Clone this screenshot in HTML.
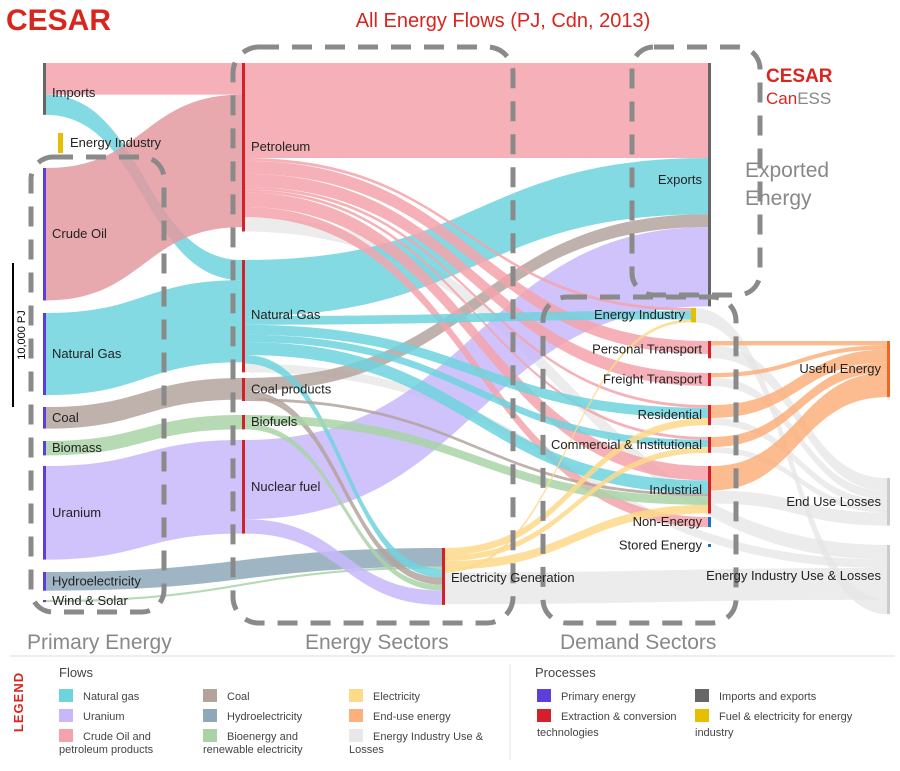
<!DOCTYPE html>
<html><head><meta charset="utf-8">
<style>
body{margin:0;background:#fff;width:900px;height:766px;overflow:hidden;font-family:"Liberation Sans",sans-serif}
svg text{font-family:"Liberation Sans",sans-serif}
</style></head>
<body>
<svg id="chart" width="900" height="766" viewBox="0 0 900 766" xmlns="http://www.w3.org/2000/svg">
<g id="links"></g>
<g id="nodes"></g>
<g id="dash" fill="none" stroke="#8a8a8a" stroke-width="5" stroke-dasharray="20 13">
<rect x="31" y="157" width="133" height="455" rx="22"/>
<rect x="233" y="47" width="280" height="576" rx="26"/>
<rect x="632" y="47" width="128" height="248" rx="22"/>
<rect x="543" y="297" width="193" height="326" rx="24"/>
</g>
<g id="labels" font-size="13" fill="#222"></g>
<text x="6" y="30" font-size="30" font-weight="bold" fill="#d9251d">CESAR</text>
<text x="503" y="27" font-size="20" fill="#d9251d" text-anchor="middle">All Energy Flows (PJ, Cdn, 2013)</text>
<text x="766" y="82" font-size="19" font-weight="bold" fill="#d9251d">CESAR</text>
<text x="766" y="104" font-size="17" fill="#d9251d">Can<tspan fill="#888">ESS</tspan></text>
<text x="745" y="177" font-size="21" fill="#888">Exported</text>
<text x="745" y="205" font-size="21" fill="#888">Energy</text>
<text x="27" y="649" font-size="21" fill="#888">Primary Energy</text>
<text x="305" y="649" font-size="21" fill="#888">Energy Sectors</text>
<text x="560" y="649" font-size="21" fill="#888">Demand Sectors</text>
<line x1="13" y1="263" x2="13" y2="407" stroke="#000" stroke-width="2"/>
<text transform="translate(25,335) rotate(-90)" font-size="11" text-anchor="middle">10,000 PJ</text>
<line x1="10" y1="656" x2="895" y2="656" stroke="#eee" stroke-width="2"/>
<line x1="510" y1="664" x2="510" y2="760" stroke="#e4e4e4"/>
<text transform="translate(23,702) rotate(-90)" font-size="13" font-weight="bold" fill="#d9251d" text-anchor="middle" letter-spacing="1">LEGEND</text>
<g id="legend" font-size="11" fill="#444">
<text x="59" y="677" font-size="13">Flows</text>
<text x="535" y="677" font-size="13">Processes</text>
</g>
</svg>
<script>
const nodeIds=['imports','eiP','crude','ngP','coal','biomass','uranium','hydro','wind','petroleum','ng','coalprod','biofuels','nuclear','elec','exports','ei','pers','freight','res','comm','ind','nonen','stored','useful','endloss','eiloss'];
const nodeLabels=['Imports','Energy Industry','Crude Oil','Natural Gas','Coal','Biomass','Uranium','Hydroelectricity','Wind & Solar','Petroleum','Natural Gas','Coal products','Biofuels','Nuclear fuel','Electricity Generation','Exports','Energy Industry','Personal Transport','Freight Transport','Residential','Commercial & Institutional','Industrial','Non-Energy','Stored Energy','Useful Energy','End Use Losses','Energy Industry Use & Losses'];
const linkSources=['imports','imports','crude','ngP','coal','biomass','uranium','hydro','wind','petroleum','ng','coalprod','nuclear','petroleum','petroleum','petroleum','petroleum','petroleum','petroleum','petroleum','petroleum','ng','ng','ng','ng','ng','ng','coalprod','coalprod','biofuels','biofuels','nuclear','elec','elec','elec','elec','elec','pers','pers','freight','freight','res','res','comm','comm','ind','ind','ei'];
const linkTargets=['petroleum','ng','petroleum','ng','coalprod','biofuels','nuclear','elec','elec','exports','exports','exports','exports','ei','pers','freight','res','comm','ind','nonen','eiloss','ei','res','comm','ind','elec','eiloss','elec','ind','ind','elec','elec','res','comm','ind','ei','eiloss','useful','endloss','useful','endloss','useful','endloss','useful','endloss','useful','endloss','eiloss'];
const linkValues=[2200,1400,9200,5700,1500,1000,6500,1300,150,6600,3900,900,5500,200,900,900,200,200,1000,700,1000,600,700,500,900,600,600,500,200,600,400,1000,500,400,600,200,2200,300,900,300,600,900,500,700,400,1700,900,1000];
const linkTypes=['oil','gas','crude','gas','coal','bio','ur','hydro','bio','oil','gas','coal','ur','oil','oil','oil','oil','oil','oil','oil','grey','gas','gas','gas','gas','gas','grey','coal','coal','bio','bio','ur','elec','elec','elec','elec','grey','end','grey','end','grey','end','grey','end','grey','end','grey','grey'];
const colors={oil:'#f5a3ab',crude:'#e39aa0',gas:'#6fd3de',coal:'#b4a39c',bio:'#a9d3a6',ur:'#c8b8fb',hydro:'#8ea8ba',elec:'#fdd98a',end:'#fcb07c',grey:'#e6e6e6'};
const nodeX={imports:43,eiP:58,crude:43,ngP:43,coal:43,biomass:43,uranium:43,hydro:43,wind:43,petroleum:242,ng:242,coalprod:242,biofuels:242,nuclear:242,elec:442,exports:708,ei:691,pers:708,freight:708,res:708,comm:708,ind:708,nonen:708,stored:708,useful:887,endloss:887,eiloss:887};
const nodeY={imports:63,eiP:133,crude:168,ngP:313,coal:407,biomass:441,uranium:466,hydro:572,wind:600,petroleum:63,ng:260,coalprod:378,biofuels:415,nuclear:440,elec:548,exports:63,ei:308,pers:341,freight:373,res:405,comm:437,ind:466,nonen:517,stored:544,useful:341,endloss:478,eiloss:545};
const barColor={imports:'#666',eiP:'#e6c000',ei:'#e6c000',exports:'#666',nonen:'#1f6fbf',stored:'#1f6fbf',useful:'#f26522',endloss:'#ccc',eiloss:'#ccc'};
const primary=['crude','ngP','coal','biomass','uranium','hydro','wind'];
const scale=0.0144;
const NS='http://www.w3.org/2000/svg';
const inSum={},outSum={};
nodeIds.forEach(n=>{inSum[n]=0;outSum[n]=0;});
linkValues.forEach((v,i)=>{outSum[linkSources[i]]+=v;inSum[linkTargets[i]]+=v;});
const outOff={},inOff={};
nodeIds.forEach(n=>{outOff[n]=0;inOff[n]=0;});
const gL=document.getElementById('links');
const paths=[];
linkValues.forEach((v,i)=>{
 const s=linkSources[i],t=linkTargets[i],h=v*scale;
 const x0=nodeX[s]+3,x1=nodeX[t];
 const y0=nodeY[s]+outOff[s],y1=nodeY[t]+inOff[t];
 outOff[s]+=h;inOff[t]+=h;
 const xm=(x0+x1)/2;
 const p=document.createElementNS(NS,'path');
 p.setAttribute('d',`M${x0},${y0}C${xm},${y0} ${xm},${y1} ${x1},${y1}L${x1},${y1+h}C${xm},${y1+h} ${xm},${y0+h} ${x0},${y0+h}Z`);
 p.setAttribute('fill',colors[linkTypes[i]]);
 p.setAttribute('fill-opacity',linkTypes[i]==='grey'?'0.75':'0.85');
 
 
 paths.push([linkTypes[i]==='grey'?0:1,p]);
});
paths.filter(q=>q[0]===0).forEach(q=>gL.appendChild(q[1]));
paths.filter(q=>q[0]===1).forEach(q=>gL.appendChild(q[1]));
const gN=document.getElementById('nodes'),gT=document.getElementById('labels');
nodeIds.forEach((n,i)=>{
 const h=Math.max(inSum[n],outSum[n])*scale||(n==='eiP'?20:3);
 const r=document.createElementNS(NS,'rect');
 r.setAttribute('x',nodeX[n]);r.setAttribute('y',nodeY[n]);
 r.setAttribute('width',n==='eiP'||n==='ei'?5:3);r.setAttribute('height',Math.max(h,2));
 r.setAttribute('fill',barColor[n]||(primary.includes(n)?'#5b3fd8':'#d4202a'));
 
 
 gN.appendChild(r);
 const t=document.createElementNS(NS,'text');
 const right=nodeX[n]>600;
 t.setAttribute('x',right?nodeX[n]-6:nodeX[n]+(n==='eiP'?12:9));
 if(n==='useful'||n==='endloss'||n==='eiloss')t.setAttribute('x',881);
 t.setAttribute('y',nodeY[n]+Math.min(h/2,n==='petroleum'?95:n==='ng'?55:h/2)+4);
 if(n==='imports')t.setAttribute('y',97);
 if(n==='elec')t.setAttribute('y',582);
 if(n==='eiloss')t.setAttribute('y',580);
 if(n==='exports')t.setAttribute('y',184);
 if(right)t.setAttribute('text-anchor','end');
 t.textContent=nodeLabels[i];
 
 
 gT.appendChild(t);
});
const legendNames=['Natural gas','Uranium','Crude Oil and','Coal','Hydroelectricity','Bioenergy and','Electricity','End-use energy','Energy Industry Use &','Primary energy','Extraction & conversion','Imports and exports','Fuel & electricity for energy'];
const legendColors=['#6fd3de','#c8b8fb','#f5a3ab','#b4a39c','#8ea8ba','#a9d3a6','#fdd98a','#fcb07c','#e8e8e8','#5b3fd8','#d4202a','#666','#e6c000'];
const legendX=[59,59,59,203,203,203,349,349,349,537,537,695,695];
const legendY=[689,709,729,689,709,729,689,709,729,689,709,689,709];
const lg=document.getElementById('legend');
legendNames.forEach((nm,i)=>{
 const r=document.createElementNS(NS,'rect');
 r.setAttribute('x',legendX[i]);r.setAttribute('y',legendY[i]);r.setAttribute('width',14);r.setAttribute('height',13);r.setAttribute('fill',legendColors[i]);
 
 
 lg.appendChild(r);
 const t=document.createElementNS(NS,'text');
 t.setAttribute('x',legendX[i]+24);t.setAttribute('y',legendY[i]+11);t.textContent=nm;
 
 
 lg.appendChild(t);
});
const extra=[['petroleum products',59,753],['renewable electricity',203,753],['Losses',349,753],['technologies',537,736],['industry',695,736]];
extra.forEach((e,i)=>{const t=document.createElementNS(NS,'text');t.setAttribute('x',e[1]);t.setAttribute('y',e[2]);t.textContent=e[0];
 
 
 lg.appendChild(t);});
</script>
</body></html>
